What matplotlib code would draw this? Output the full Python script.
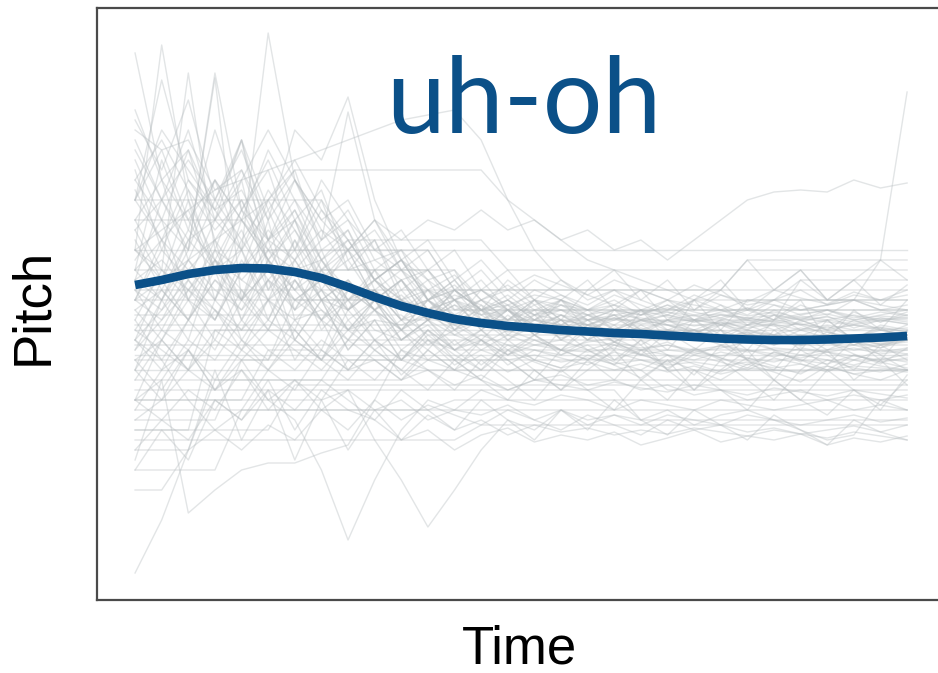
import matplotlib
matplotlib.use("Agg")
import matplotlib.pyplot as plt

# ---------------- data ----------------
time_steps = list(range(30))

# mean smooth trend (blue)
smooth_pitch = [315, 320, 326, 330, 332, 331.5, 328, 322, 313, 303, 294, 287, 281, 277, 274,
                272, 270, 268.5, 267, 266, 264.5, 263, 261.5, 260.5, 260, 260, 260.5, 261.5, 262.5, 264]

# individual pitch tracks (grey)
track_a1 = [420,380,450,360,400,350,330,340,300,310,290,300,285,280,290,275,270,280,265,270,260,265,270,260,255,262,258,250,255,260]
track_a2 = [300,360,420,390,460,330,380,310,350,300,320,290,305,295,280,300,290,285,290,280,285,278,282,275,280,276,270,275,272,268]
track_a3 = [547,420,380,330,350,300,320,280,300,270,260,280,265,255,270,260,250,258,262,250,255,248,252,258,250,245,250,255,248,252]
track_a4 = [350,555,400,340,300,380,280,310,270,290,260,275,250,265,255,250,245,255,240,250,245,240,248,242,238,245,240,235,242,238]
track_a5 = [380,330,527,350,420,310,360,300,290,310,280,290,300,285,270,280,275,270,268,272,265,270,262,268,265,260,265,262,258,262]
track_a6 = [320,400,350,522,300,360,290,330,280,300,270,285,275,280,268,272,265,270,262,266,270,264,260,266,262,258,264,260,256,260]
track_a7 = [330,300,360,380,350,567,420,370,330,340,320,330,300,310,295,305,300,290,295,288,292,285,290,284,288,282,286,280,284,282]
track_a8 = [470,450,460,410,430,380,470,440,503,400,340,320,300,310,290,300,295,290,285,290,288,284,286,282,285,280,283,278,282,280]
track_a9 = [400,450,380,420,350,390,330,360,488,380,330,310,300,290,295,285,290,280,285,282,278,280,276,278,274,276,272,275,270,272]
track_a10 = [310,290,340,300,360,320,350,300,320,290,310,280,295,285,290,280,275,285,270,280,275,268,275,270,265,272,268,262,270,265]
track_a11 = [260,320,280,350,300,330,290,310,270,300,260,280,255,270,250,265,245,260,255,250,258,245,255,250,243,252,248,240,250,246]
track_a12 = [450,400,470,380,430,360,400,340,370,320,340,300,310,290,300,285,295,280,290,285,288,280,285,282,278,284,280,276,282,278]
track_a13 = [230,300,260,340,280,320,260,300,250,280,240,270,250,260,245,255,250,248,252,245,250,247,244,250,246,242,248,244,240,246]
track_a14 = [370,320,400,300,350,280,330,270,300,260,280,255,270,250,265,255,260,250,258,252,255,250,254,248,252,250,248,252,246,250]
track_a15 = [290,260,310,280,330,400,350,420,380,350,330,300,310,290,300,280,295,285,280,290,283,278,285,280,276,282,278,275,280,276]
track_a16 = [200,260,230,300,270,320,290,340,300,320,290,300,280,290,275,285,280,275,282,276,280,274,278,272,276,270,275,270,273,268]
track_a17 = [340,380,300,360,280,340,260,300,250,280,240,260,235,250,240,245,238,242,236,240,235,238,234,238,232,236,230,234,232,230]
track_a18 = [410,360,390,330,370,310,340,300,320,290,305,280,295,275,290,272,285,270,282,268,280,266,278,265,276,264,274,262,272,260]
track_a19 = [250,280,330,300,380,340,310,350,290,330,280,310,270,295,265,285,260,280,258,275,262,270,258,268,255,265,260,262,256,262]
track_a20 = [360,310,280,330,260,300,240,280,230,260,225,250,230,245,228,240,232,238,230,236,228,234,226,232,230,228,234,226,230,228]

track_b1 = [240,240,240,240,240,240,300,300,300,300,300,260,260,260,260,260,260,260,260,260,260,260,260,260,260,260,260,260,260,260]
track_b2 = [200,200,200,200,200,250,250,250,310,310,280,280,280,280,280,280,270,270,270,270,270,270,270,300,300,300,300,300,300,300]
track_b3 = [180,180,180,180,240,240,240,240,240,240,240,230,230,230,230,230,230,230,230,230,210,210,210,210,210,210,210,210,210,210]
track_b4 = [170,170,170,270,270,270,270,330,330,330,330,330,290,290,290,290,290,290,290,290,290,290,290,290,290,290,290,290,290,290]
track_b5 = [220,220,220,220,220,220,220,220,260,260,260,260,250,250,250,250,250,250,250,250,250,250,250,250,250,250,250,250,250,250]
track_b6 = [330,330,330,330,330,330,330,330,330,330,330,330,330,280,280,280,280,280,280,280,280,280,280,280,280,320,320,320,320,320]
track_b7 = [270,270,270,270,270,270,270,270,270,270,270,270,270,270,270,270,270,270,270,270,270,270,270,270,270,270,270,270,270,270]
track_b8 = [150,150,150,220,220,220,220,220,220,220,220,240,240,240,240,240,240,240,240,240,240,240,240,240,240,240,240,240,240,240]
track_b9 = [190,190,190,190,190,190,190,190,190,190,190,190,200,200,200,200,200,200,200,200,200,200,200,200,200,200,200,200,200,200]
track_b10 = [380,380,380,380,380,350,350,350,350,350,350,350,310,310,310,310,310,310,310,310,310,310,310,310,310,310,310,310,310,310]
track_b11 = [300,300,300,300,300,300,300,300,300,300,300,290,290,290,290,290,290,290,290,290,290,290,290,290,290,290,290,290,290,290]
track_b12 = [210,210,210,210,210,210,210,210,210,210,210,210,210,210,210,210,210,210,210,180,180,180,180,180,180,180,180,180,180,180]
track_b13 = [160,160,160,160,160,160,160,160,160,160,160,160,160,175,175,175,175,175,175,175,175,175,175,175,175,175,175,175,175,175]
track_b14 = [350,350,350,350,350,350,350,350,350,350,350,350,350,350,350,350,350,350,350,350,350,350,350,350,350,350,350,350,350,350]
track_b15 = [255,255,255,255,255,255,255,255,255,255,255,255,255,255,255,255,255,255,255,255,230,230,230,230,230,230,230,230,230,230]

track_c1 = [140,220,87,110,130,137,137,147,155,200,250,240,230,220,210,220,225,215,220,210,215,205,210,200,205,210,200,205,200,205]
track_c2 = [200,180,210,190,230,200,180,130,60,120,170,200,190,210,200,195,205,200,190,200,195,190,200,195,190,195,200,190,195,190]
track_c3 = [260,230,250,210,240,200,220,190,210,160,120,73,110,150,180,170,190,180,185,175,185,180,175,185,180,175,180,185,178,182]
track_c4 = [110,110,150,170,190,230,210,250,230,240,220,230,215,225,210,220,215,210,218,212,208,215,210,205,212,208,204,210,206,202]
track_c5 = [130,170,140,200,180,220,170,210,190,180,160,170,150,165,172,158,165,160,168,155,162,170,158,164,160,166,155,162,158,164]
track_c6 = [230,200,250,210,230,190,220,200,210,190,200,180,190,185,195,180,190,175,185,180,190,175,185,190,180,170,160,165,200,190]
track_c7 = [280,240,200,170,150,175,160,190,170,200,180,195,185,175,190,180,170,185,175,165,180,170,175,168,172,166,170,174,168,160]
track_c8 = [27,80,150,230,160,210,140,200,150,190,160,185,170,180,165,175,168,172,165,170,166,172,168,164,170,166,162,168,164,160]

track_d1 = [300,280,310,290,270,300,280,290,270,280,275,285,270,280,275,270,280,275,270,280,275,270,280,290,300,320,300,300,340,508]
track_d2 = [320,340,310,350,330,360,340,370,350,380,360,380,370,390,370,380,360,370,350,360,340,360,380,400,408,410,408,420,412,417]
track_d3 = [350,370,390,410,420,430,440,450,460,470,480,485,490,460,400,350,320,300,310,290,300,295,290,300,295,290,295,300,295,290]
track_d4 = [300,320,340,360,380,400,430,430,430,430,430,430,430,430,400,380,360,340,330,320,310,300,300,300,300,300,300,300,300,300]
track_d5 = [400,520,420,380,460,360,390,330,350,320,300,310,290,300,280,290,285,280,282,278,285,280,276,282,278,275,280,285,280,282]
track_d6 = [440,380,350,527,390,340,300,320,290,310,270,290,265,280,260,275,262,270,258,268,260,265,255,262,258,265,250,262,255,258]

track_e1 = [480,430,500,400,450,380,420,360,390,340,350,320,330,300,310,290,300,285,295,280,290,300,310,290,280,295,285,300,290,295]
track_e2 = [330,440,370,470,390,430,350,400,330,360,310,330,300,320,290,310,300,290,305,295,285,300,290,280,295,285,290,280,285,290]
track_e3 = [250,300,350,420,380,450,400,360,380,330,350,300,320,290,280,300,270,285,275,290,270,280,265,275,285,270,280,260,275,270]
track_e4 = [380,420,340,400,460,390,430,350,370,310,330,290,300,280,270,290,260,275,285,265,280,270,260,275,265,280,270,255,265,275]
track_e5 = [430,350,410,330,390,440,380,410,340,360,300,320,280,300,290,275,285,270,280,290,275,265,280,270,285,275,265,280,270,265]
track_e6 = [300,350,320,380,420,470,420,380,400,350,370,330,350,310,330,300,320,305,295,310,300,290,305,295,300,310,295,305,300,310]
track_e7 = [270,310,360,330,300,350,390,340,310,290,320,280,300,270,290,265,280,260,275,255,270,265,258,270,262,255,268,260,252,265]
track_e8 = [460,400,360,420,380,340,380,320,350,300,320,290,310,280,295,270,285,275,265,280,270,260,275,265,258,270,262,255,266,260]
track_e9 = [400,470,430,390,350,410,370,330,360,320,340,300,315,290,305,285,300,280,290,285,295,280,288,292,280,286,290,282,288,284]
track_e10 = [220,260,300,280,330,370,340,390,360,320,340,300,320,285,300,280,290,275,285,270,280,285,275,280,270,278,284,272,280,276]
track_e11 = [350,320,370,340,390,360,420,380,350,370,330,350,310,330,300,320,305,295,310,300,290,305,295,285,300,290,295,300,290,285]
track_e12 = [280,330,300,260,310,280,340,300,270,300,260,280,250,270,245,260,250,240,255,245,238,250,242,235,248,240,236,245,238,242]
track_e13 = [190,230,280,250,300,270,320,280,260,290,250,270,240,260,235,250,242,235,248,240,232,245,238,230,242,236,228,240,234,230]
track_e14 = [420,460,410,370,400,340,370,320,340,300,320,280,300,270,290,265,280,260,272,268,262,270,258,266,260,254,264,258,252,260]
track_e15 = [310,270,320,290,250,300,270,240,280,250,270,240,260,235,255,240,232,250,238,230,245,236,228,242,234,226,240,232,228,236]
track_e16 = [370,400,440,400,360,400,440,390,350,380,340,360,320,340,310,325,315,305,320,310,300,315,305,298,310,302,296,308,300,305]
track_e17 = [240,210,250,290,260,230,270,240,290,260,240,265,245,230,250,238,228,245,235,222,240,230,220,236,228,218,234,226,220,230]
track_e18 = [330,360,300,340,310,270,320,290,260,300,270,250,280,260,245,265,250,240,258,246,236,252,242,232,248,240,230,245,238,232]
track_e19 = [490,420,450,390,410,360,380,340,360,320,340,310,325,300,315,295,305,290,300,285,295,288,282,292,286,280,290,284,278,288]
track_e20 = [260,240,280,320,290,340,310,280,320,290,270,300,275,260,285,265,250,275,258,245,268,252,240,262,250,238,258,246,236,252]
track_e21 = [290,310,280,320,300,330,300,320,290,310,280,300,270,290,260,280,300,270,250,290,260,300,270,250,280,300,260,290,270,300]
track_e22 = [240,260,230,270,250,280,260,240,270,250,230,260,240,220,250,230,210,240,220,250,230,210,240,220,200,230,250,220,240,215]
track_e23 = [200,220,260,240,280,250,230,260,240,220,250,230,210,240,220,200,230,210,190,220,200,230,210,190,220,200,185,210,195,220]
track_e24 = [320,300,340,310,290,320,300,280,310,290,270,300,280,310,290,270,300,320,290,310,280,300,320,290,310,330,300,320,295,315]
track_e25 = [350,330,310,340,320,300,330,310,290,320,300,280,310,290,320,300,280,310,330,300,320,290,310,340,310,330,300,320,340,320]
track_e26 = [180,200,230,210,250,230,260,240,220,250,230,210,240,220,200,230,210,230,250,220,240,210,230,250,220,200,230,210,190,225]
track_e27 = [270,250,230,260,240,270,250,230,260,240,220,250,230,260,240,220,250,270,240,260,230,250,270,240,230,260,245,230,255,240]
track_e28 = [150,180,160,200,180,210,190,220,200,180,210,190,170,200,180,160,190,170,200,180,165,190,175,160,185,170,155,180,168,175]
track_e29 = [400,360,330,360,320,350,310,330,300,320,290,310,285,300,280,295,275,290,270,285,300,280,295,275,290,280,270,288,278,285]
track_e30 = [230,270,250,220,260,240,280,250,230,260,240,270,250,230,260,240,270,250,235,260,245,225,255,240,220,250,235,260,245,230]
track_e31 = [230,230,230,230,230,230,230,230,230,230,230,230,230,230,230,230,230,230,230,230,230,230,230,230,230,230,230,230,230,230]
track_e32 = [285,285,285,285,285,285,285,285,285,285,285,265,265,265,265,265,265,265,265,265,265,265,265,265,265,265,265,265,265,265]
track_e33 = [200,200,200,200,200,200,200,200,240,240,240,240,240,240,240,220,220,220,220,220,220,220,220,220,220,220,220,220,220,220]
track_e34 = [310,310,310,310,310,310,310,310,310,310,310,310,310,310,310,310,310,310,310,310,310,310,310,340,340,340,340,340,340,340]
track_e35 = [245,245,245,245,245,245,245,245,245,245,245,245,245,245,245,245,245,245,245,245,245,245,245,245,245,245,245,245,245,245]
track_e36 = [170,170,170,170,170,170,215,215,215,215,215,215,215,215,215,215,215,215,215,215,215,215,215,215,215,215,215,215,215,215]
track_e37 = [275,275,275,275,275,275,275,275,275,275,275,275,275,275,275,275,275,275,275,275,275,275,275,275,275,255,255,255,255,255]
track_e38 = [400,400,400,400,400,400,400,400,360,360,360,360,360,360,330,330,330,330,330,330,330,330,330,330,330,330,330,330,330,330]
track_e39 = [130,130,130,130,190,190,190,190,190,190,190,190,190,190,190,190,190,190,190,190,190,190,190,190,190,190,190,190,190,190]
track_e40 = [260,290,320,280,340,300,360,320,300,330,300,280,310,290,270,300,280,260,290,270,250,280,260,240,270,250,280,260,240,270]

pitch_tracks = [
    track_a1, track_a2, track_a3, track_a4, track_a5, track_a6, track_a7, track_a8, track_a9, track_a10,
    track_a11, track_a12, track_a13, track_a14, track_a15, track_a16, track_a17, track_a18, track_a19, track_a20,
    track_b1, track_b2, track_b3, track_b4, track_b5, track_b6, track_b7, track_b8, track_b9, track_b10,
    track_b11, track_b12, track_b13, track_b14, track_b15,
    track_c1, track_c2, track_c3, track_c4, track_c5, track_c6, track_c7, track_c8,
    track_d1, track_d2, track_d3, track_d4, track_d5, track_d6,
    track_e1, track_e2, track_e3, track_e4, track_e5, track_e6, track_e7, track_e8, track_e9, track_e10,
    track_e11, track_e12, track_e13, track_e14, track_e15, track_e16, track_e17, track_e18, track_e19, track_e20,
    track_e21, track_e22, track_e23, track_e24, track_e25, track_e26, track_e27, track_e28, track_e29, track_e30,
    track_e31, track_e32, track_e33, track_e34, track_e35, track_e36, track_e37, track_e38, track_e39, track_e40,
]

title_text = "uh-oh"
x_label = "Time"
y_label = "Pitch"

# ---------------- figure ----------------
W, H = 938, 673
fig = plt.figure(figsize=(W / 100, H / 100), dpi=100)
ax = fig.add_axes([97 / W, 73 / H, (1000 - 97) / W, 592 / H])

for tr in pitch_tracks:
    ax.plot(time_steps, tr, color="#b8bec1", alpha=0.4, lw=1.0, zorder=1)

ax.plot(time_steps, smooth_pitch, color="#0b5088", lw=6.2, solid_capstyle="butt", zorder=3)

ax.set_xlim(-1.43, 32.49)
ax.set_ylim(0, 592)
ax.set_xticks([])
ax.set_yticks([])
for side in ("left", "bottom", "top"):
    ax.spines[side].set_color("#4a4a4a")
    ax.spines[side].set_linewidth(1.6)
ax.spines["right"].set_visible(False)

ax.set_xlabel(x_label, fontsize=38, family="Liberation Sans", color="black")
ax.set_ylabel(y_label, fontsize=38, family="Liberation Sans", color="black")
ax.xaxis.set_label_coords((519 - 97) / 903, (600 - 663) / 592)
ax.xaxis.label.set_va("baseline")
ax.yaxis.set_label_coords((47 - 97) / 903, (600 - 306) / 592)
ax.yaxis.label.set_va("baseline")

ax.text((524 - 97) / 903, (600 - 133) / 592, title_text, transform=ax.transAxes,
        ha="center", va="baseline", fontsize=76, family="Lato", color="#0b5088", zorder=4)

fig.savefig("out.png", dpi=100)
